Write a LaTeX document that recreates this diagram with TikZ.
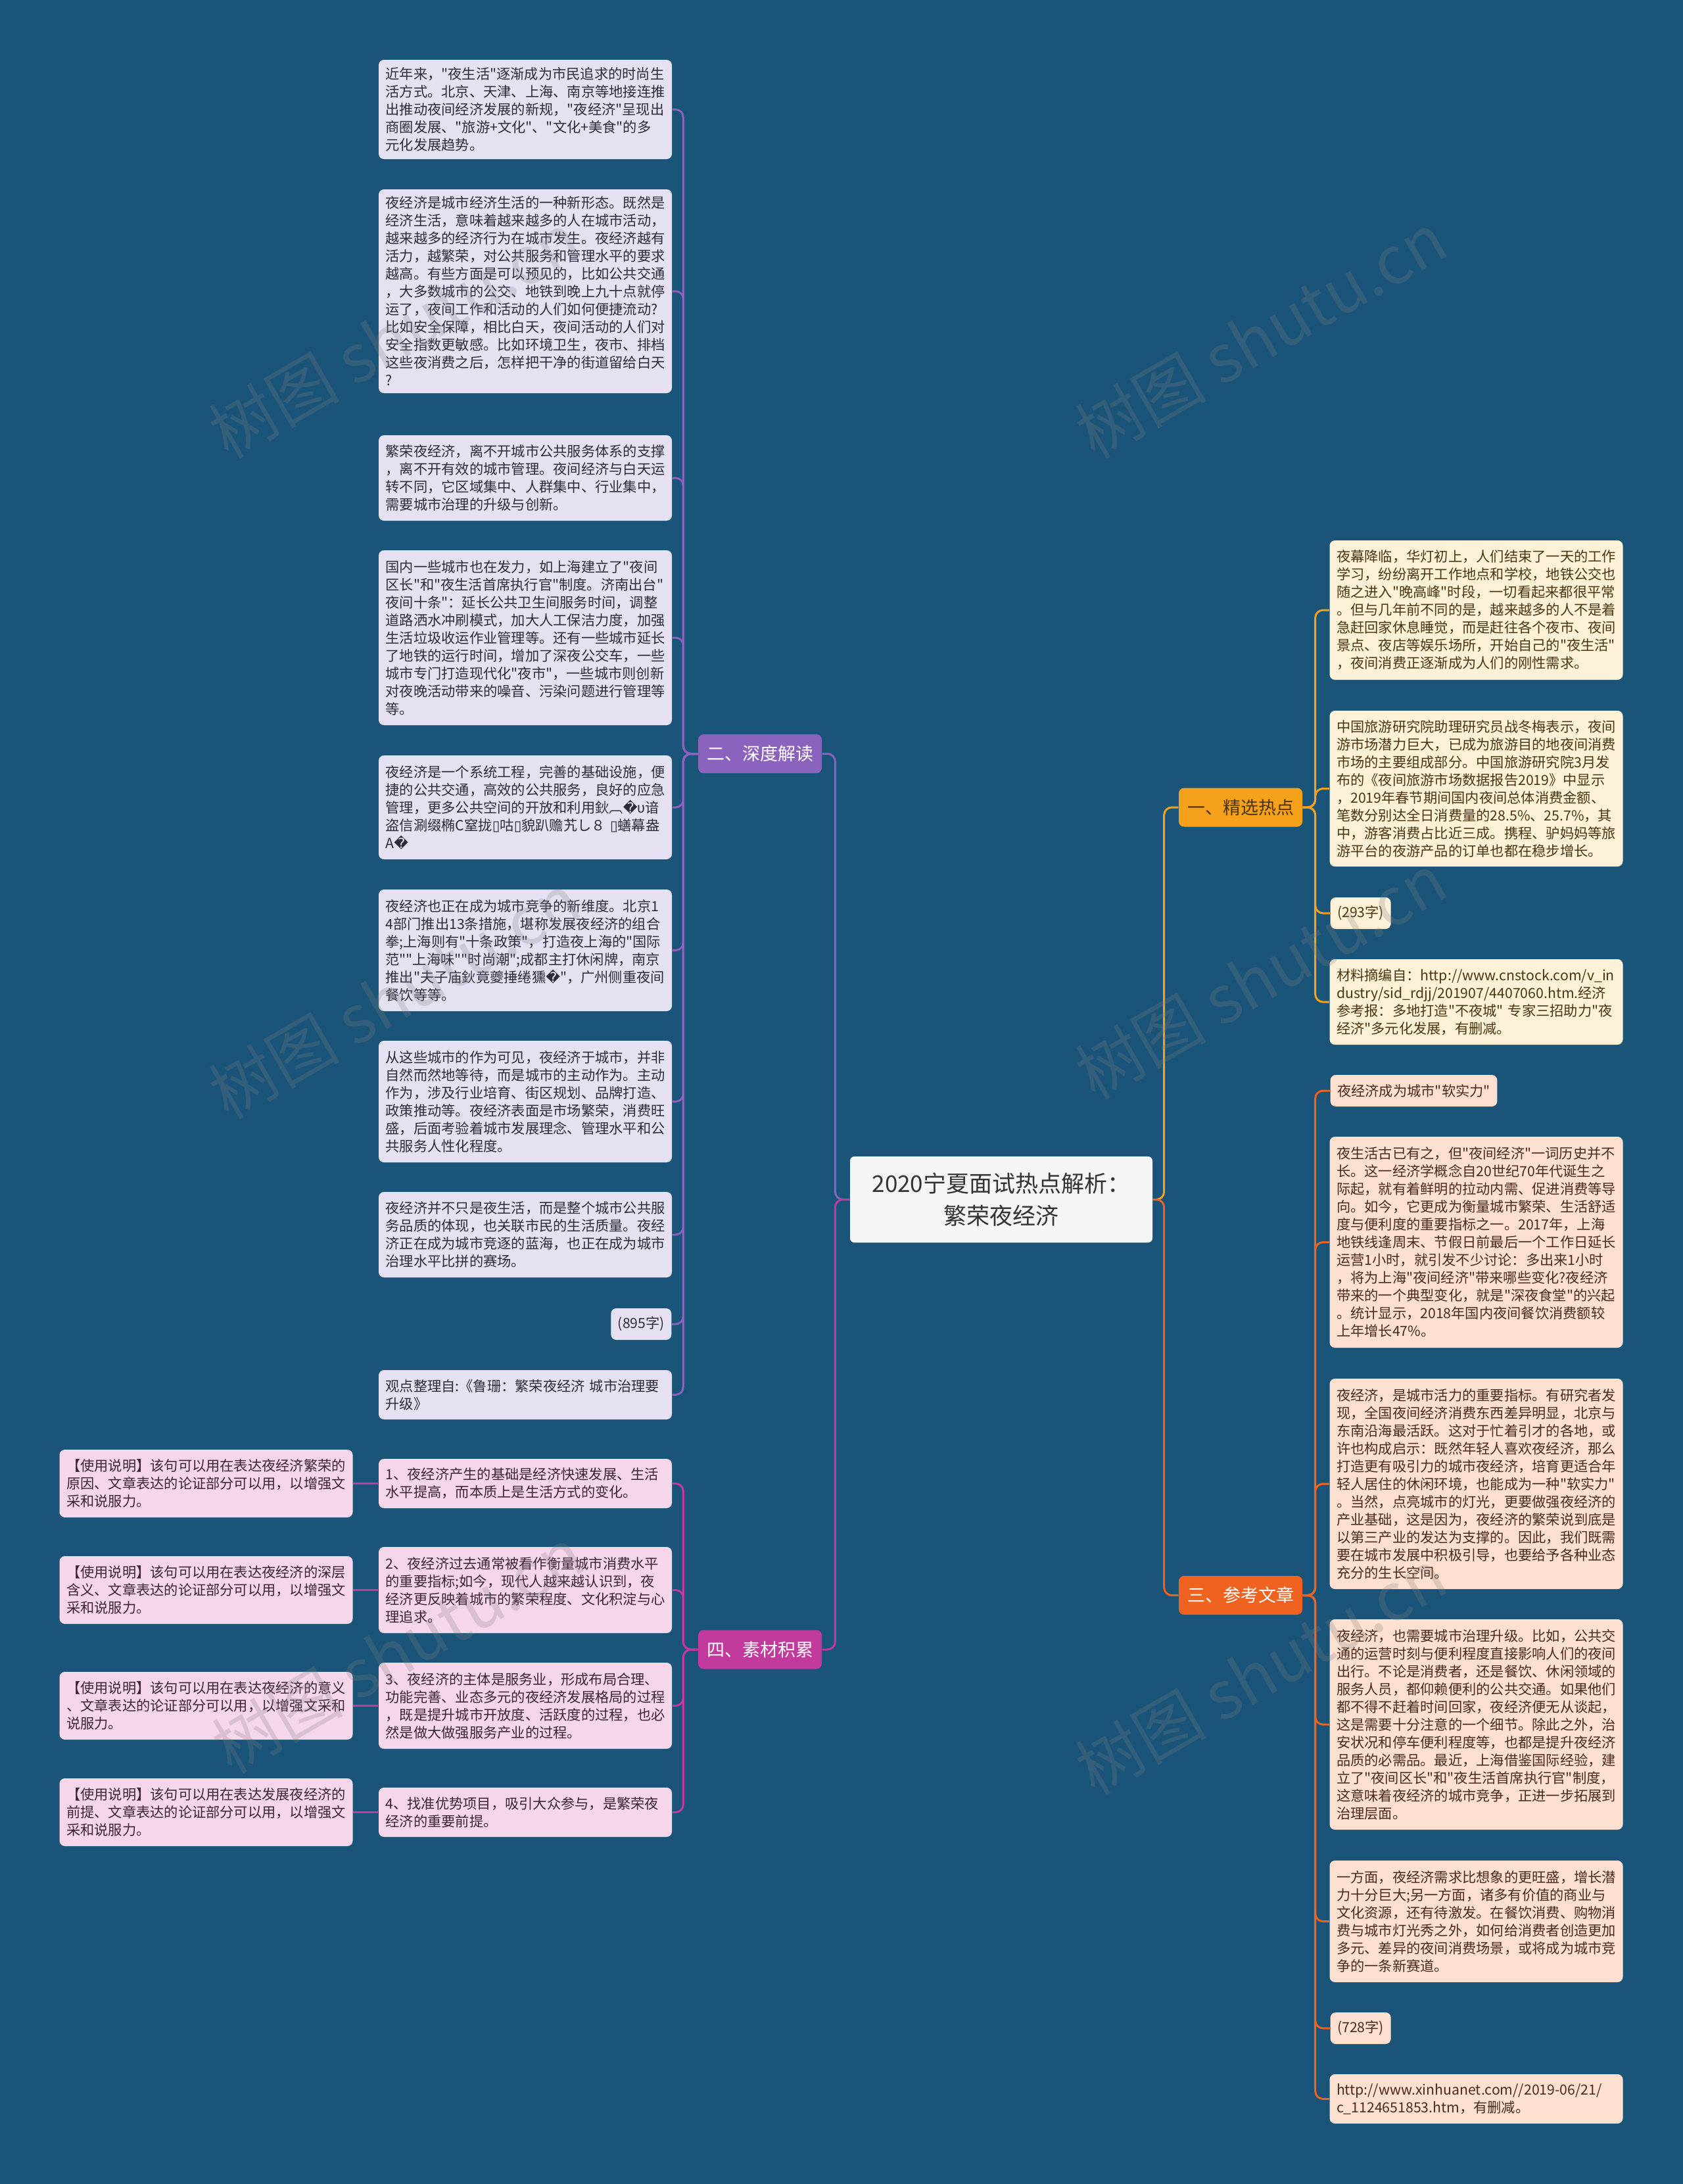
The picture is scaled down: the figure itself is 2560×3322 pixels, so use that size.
\documentclass[tikz,border=0pt]{standalone}
\usepackage{fontspec}
\newfontfamily\cjk{Noto Sans CJK SC}
\newfontfamily\dvs{DejaVu Sans}
\definecolor{bg}{HTML}{1B5479}
\definecolor{pcol}{HTML}{8B62BE}
\definecolor{mcol}{HTML}{C23A9B}
\definecolor{ocol}{HTML}{F5A11C}
\definecolor{rcol}{HTML}{F0621F}
\definecolor{pfill}{HTML}{E6E1F2}
\definecolor{mfill}{HTML}{F6D6EB}
\definecolor{ofill}{HTML}{FDF1D8}
\definecolor{rfill}{HTML}{FDE0D0}
\definecolor{ptext}{HTML}{2E2A3A}
\definecolor{mtext}{HTML}{3A2433}
\definecolor{otext}{HTML}{4A3510}
\definecolor{rtext}{HTML}{4A2A18}
\definecolor{cfill}{HTML}{F5F5F5}
\definecolor{ctext}{HTML}{333333}
\begin{document}
\begin{tikzpicture}[x=0.3pt,y=-0.3pt,
  leafbase/.style={rounded corners=2.4pt, inner xsep=3.15pt, inner ysep=0pt,
    align=left, font=\cjk\fontsize{6.375pt}{8.1pt}\selectfont},
  leaf/.style={leafbase, text width=127.5pt},
  pleaf/.style={leaf, fill=pfill, text=ptext},
  mleaf/.style={leaf, fill=mfill, text=mtext},
  oleaf/.style={leaf, fill=ofill, text=otext},
  rleaf/.style={leaf, fill=rfill, text=rtext},
  psmall/.style={leafbase, fill=pfill, text=ptext, minimum height=14.4pt},
  osmall/.style={leafbase, fill=ofill, text=otext, minimum height=14.4pt},
  rsmall/.style={leafbase, fill=rfill, text=rtext, minimum height=14.4pt},
  branch/.style={rounded corners=2.4pt, minimum width=56.4pt, minimum height=17.7pt,
    inner sep=0pt, font=\cjk\fontsize{8.1pt}{9.7pt}\selectfont},
  conn/.style={line width=0.9pt, rounded corners=3.5pt},
  wm/.style={rotate=30, text=gray, opacity=0.25, font=\cjk\fontsize{30pt}{32pt}\selectfont}
]
\useasboundingbox (0,0) rectangle (2560,3322);
\fill[bg] (0,0) rectangle (2560,3322);

% center
\node[fill=cfill, rounded corners=2pt, minimum width=138pt, minimum height=39.3pt,
  align=center, text=ctext, font=\cjk\fontsize{10.5pt}{14.7pt}\selectfont] (c) at (1523,1824.5)
  {2020宁夏面试热点解析：\\繁荣夜经济};

% branches
\node[branch, fill=ocol, text=otext] (b1) at (1887,1228) {一、精选热点};
\node[branch, fill=pcol, text=white] (b2) at (1156,1146.5) {二、深度解读};
\node[branch, fill=rcol, text=white] (b3) at (1887,2426.5) {三、参考文章};
\node[branch, fill=mcol, text=white] (b4) at (1156,2509) {四、素材积累};

% purple leaves
\node[pleaf, minimum height=45.3pt] (p1) at (799,166.5) {近年来，"夜生活"逐渐成为市民追求的时尚生\\活方式。北京、天津、上海、南京等地接连推\\出推动夜间经济发展的新规，"夜经济"呈现出\\商圈发展、"旅游+文化"、"文化+美食"的多\\元化发展趋势。};
\node[pleaf, minimum height=93pt] (p2) at (799,443) {夜经济是城市经济生活的一种新形态。既然是\\经济生活，意味着越来越多的人在城市活动，\\越来越多的经济行为在城市发生。夜经济越有\\活力，越繁荣，对公共服务和管理水平的要求\\越高。有些方面是可以预见的，比如公共交通\\，大多数城市的公交、地铁到晚上九十点就停\\运了，夜间工作和活动的人们如何便捷流动?\\比如安全保障，相比白天，夜间活动的人们对\\安全指数更敏感。比如环境卫生，夜市、排档\\这些夜消费之后，怎样把干净的街道留给白天\\?};
\node[pleaf, minimum height=39pt] (p3) at (799,727) {繁荣夜经济，离不开城市公共服务体系的支撑\\，离不开有效的城市管理。夜间经济与白天运\\转不同，它区域集中、人群集中、行业集中，\\需要城市治理的升级与创新。};
\node[pleaf, minimum height=79.8pt] (p4) at (799,970) {国内一些城市也在发力，如上海建立了"夜间\\区长"和"夜生活首席执行官"制度。济南出台"\\夜间十条"：延长公共卫生间服务时间，调整\\道路洒水冲刷模式，加大人工保洁力度，加强\\生活垃圾收运作业管理等。还有一些城市延长\\了地铁的运行时间，增加了深夜公交车，一些\\城市专门打造现代化"夜市"，一些城市则创新\\对夜晚活动带来的噪音、污染问题进行管理等\\等。};
\node[pleaf, minimum height=47.4pt] (p5) at (799,1228) {夜经济是一个系统工程，完善的基础设施，便\\捷的公共交通，高效的公共服务，良好的应急\\管理，更多公共空间的开放和利用鈥︹{\dvs �}υ谙\\盗信涮缀椭C窒拢{\dvs ▯}咕{\dvs ▯}貌趴赡艽し８~{\dvs ▯}蟮幕盎\\A{\dvs �}};
\node[pleaf, minimum height=55.5pt] (p6) at (799,1445.5) {夜经济也正在成为城市竞争的新维度。北京1\\4部门推出13条措施，堪称发展夜经济的组合\\拳;上海则有"十条政策"，打造夜上海的"国际\\范""上海味""时尚潮";成都主打休闲牌，南京\\推出"夫子庙鈥竟夔捶绻獯{\dvs �}"，广州侧重夜间\\餐饮等等。};
\node[pleaf, minimum height=55.5pt] (p7) at (799,1675.5) {从这些城市的作为可见，夜经济于城市，并非\\自然而然地等待，而是城市的主动作为。主动\\作为，涉及行业培育、街区规划、品牌打造、\\政策推动等。夜经济表面是市场繁荣，消费旺\\盛，后面考验着城市发展理念、管理水平和公\\共服务人性化程度。};
\node[pleaf, minimum height=39pt] (p8) at (799,1878) {夜经济并不只是夜生活，而是整个城市公共服\\务品质的体现，也关联市民的生活质量。夜经\\济正在成为城市竞逐的蓝海，也正在成为城市\\治理水平比拼的赛场。};
\node[psmall, anchor=east] (p9) at (1022,2014) {(895字)};
\node[pleaf, minimum height=22.5pt] (p10) at (799,2121.5) {观点整理自:《鲁珊：繁荣夜经济~城市治理要\\升级》};

% magenta leaves
\node[mleaf, minimum height=22.5pt] (m1) at (799,2256.5) {1、夜经济产生的基础是经济快速发展、生活\\水平提高，而本质上是生活方式的变化。};
\node[mleaf, minimum height=39.3pt] (m2) at (799,2418.5) {2、夜经济过去通常被看作衡量城市消费水平\\的重要指标;如今，现代人越来越认识到，夜\\经济更反映着城市的繁荣程度、文化积淀与心\\理追求。};
\node[mleaf, minimum height=39.3pt] (m3) at (799,2594.5) {3、夜经济的主体是服务业，形成布局合理、\\功能完善、业态多元的夜经济发展格局的过程\\，既是提升城市开放度、活跃度的过程，也必\\然是做大做强服务产业的过程。};
\node[mleaf, minimum height=22.5pt] (m4) at (799,2756.5) {4、找准优势项目，吸引大众参与，是繁荣夜\\经济的重要前提。};
\node[mleaf, minimum height=30.9pt] (u1) at (313.5,2256.5) {【使用说明】该句可以用在表达夜经济繁荣的\\原因、文章表达的论证部分可以用，以增强文\\采和说服力。};
\node[mleaf, minimum height=30.9pt] (u2) at (313.5,2418.5) {【使用说明】该句可以用在表达夜经济的深层\\含义、文章表达的论证部分可以用，以增强文\\采和说服力。};
\node[mleaf, minimum height=30.9pt] (u3) at (313.5,2594.5) {【使用说明】该句可以用在表达夜经济的意义\\、文章表达的论证部分可以用，以增强文采和\\说服力。};
\node[mleaf, minimum height=30.9pt] (u4) at (313.5,2756.5) {【使用说明】该句可以用在表达发展夜经济的\\前提、文章表达的论证部分可以用，以增强文\\采和说服力。};

% orange leaves
\node[oleaf, minimum height=63.6pt] (o1) at (2245.5,928) {夜幕降临，华灯初上，人们结束了一天的工作\\学习，纷纷离开工作地点和学校，地铁公交也\\随之进入"晚高峰"时段，一切看起来都很平常\\。但与几年前不同的是，越来越多的人不是着\\急赶回家休息睡觉，而是赶往各个夜市、夜间\\景点、夜店等娱乐场所，开始自己的"夜生活"\\，夜间消费正逐渐成为人们的刚性需求。};
\node[oleaf, minimum height=71.1pt] (o2) at (2245.5,1199.5) {中国旅游研究院助理研究员战冬梅表示，夜间\\游市场潜力巨大，已成为旅游目的地夜间消费\\市场的主要组成部分。中国旅游研究院3月发\\布的《夜间旅游市场数据报告2019》中显示\\，2019年春节期间国内夜间总体消费金额、\\笔数分别达全日消费量的28.5\%、25.7\%，其\\中，游客消费占比近三成。携程、驴妈妈等旅\\游平台的夜游产品的订单也都在稳步增长。};
\node[osmall, anchor=west] (o3) at (2023,1389) {(293字)};
\node[oleaf, minimum height=39pt] (o4) at (2245.5,1524) {材料摘编自：http://www.cnstock.com/v\_in\\dustry/sid\_rdjj/201907/4407060.htm.经济\\参考报：多地打造"不夜城"~专家三招助力"夜\\经济"多元化发展，有删减。};

% red leaves
\node[rsmall, anchor=west] (r1) at (2023,1659) {夜经济成为城市"软实力"};
\node[rleaf, minimum height=96.3pt] (r2) at (2245.5,1889.5) {夜生活古已有之，但"夜间经济"一词历史并不\\长。这一经济学概念自20世纪70年代诞生之\\际起，就有着鲜明的拉动内需、促进消费等导\\向。如今，它更成为衡量城市繁荣、生活舒适\\度与便利度的重要指标之一。2017年，上海\\地铁线逢周末、节假日前最后一个工作日延长\\运营1小时，就引发不少讨论：多出来1小时\\，将为上海"夜间经济"带来哪些变化?夜经济\\带来的一个典型变化，就是"深夜食堂"的兴起\\。统计显示，2018年国内夜间餐饮消费额较\\上年增长47\%。};
\node[rleaf, minimum height=96pt] (r3) at (2245.5,2257) {夜经济，是城市活力的重要指标。有研究者发\\现，全国夜间经济消费东西差异明显，北京与\\东南沿海最活跃。这对于忙着引才的各地，或\\许也构成启示：既然年轻人喜欢夜经济，那么\\打造更有吸引力的城市夜经济，培育更适合年\\轻人居住的休闲环境，也能成为一种"软实力"\\。当然，点亮城市的灯光，更要做强夜经济的\\产业基础，这是因为，夜经济的繁荣说到底是\\以第三产业的发达为支撑的。因此，我们既需\\要在城市发展中积极引导，也要给予各种业态\\充分的生长空间。};
\node[rleaf, minimum height=96pt] (r4) at (2245.5,2623) {夜经济，也需要城市治理升级。比如，公共交\\通的运营时刻与便利程度直接影响人们的夜间\\出行。不论是消费者，还是餐饮、休闲领域的\\服务人员，都仰赖便利的公共交通。如果他们\\都不得不赶着时间回家，夜经济便无从谈起，\\这是需要十分注意的一个细节。除此之外，治\\安状况和停车便利程度等，也都是提升夜经济\\品质的必需品。最近，上海借鉴国际经验，建\\立了"夜间区长"和"夜生活首席执行官"制度，\\这意味着夜经济的城市竞争，正进一步拓展到\\治理层面。};
\node[rleaf, minimum height=55.5pt] (r5) at (2245.5,2922.5) {一方面，夜经济需求比想象的更旺盛，增长潜\\力十分巨大;另一方面，诸多有价值的商业与\\文化资源，还有待激发。在餐饮消费、购物消\\费与城市灯光秀之外，如何给消费者创造更加\\多元、差异的夜间消费场景，或将成为城市竞\\争的一条新赛道。};
\node[rsmall, anchor=west] (r6) at (2023,3085) {(728字)};
\node[rleaf, minimum height=22.5pt] (r7) at (2245.5,3192.5) {http://www.xinhuanet.com//2019-06/21/\\c\_1124651853.htm，有删减。};

% connectors: center to branches
\draw[conn, ocol] (c.east) -- ++(17,0) |- (b1.west);
\draw[conn, rcol] (c.east) -- ++(17,0) |- (b3.west);
\draw[conn, pcol] (c.west) -- ++(-22,0) |- (b2.east);
\draw[conn, mcol] (c.west) -- ++(-22,0) |- (b4.east);

% purple
\foreach \n in {p1,p2,p3,p4,p5,p6,p7,p8,p9,p10}
  \draw[conn, pcol] (b2.west) -- ++(-22,0) |- (\n.east);
% magenta
\foreach \n in {m1,m2,m3,m4}
  \draw[conn, mcol] (b4.west) -- ++(-22,0) |- (\n.east);
\draw[conn, mcol] (m1.west) -- (u1.east);
\draw[conn, mcol] (m2.west) -- (u2.east);
\draw[conn, mcol] (m3.west) -- (u3.east);
\draw[conn, mcol] (m4.west) -- (u4.east);
% orange
\foreach \n in {o1,o2,o3,o4}
  \draw[conn, ocol] (b1.east) -- ++(19,0) |- (\n.west);
% red
\foreach \n in {r1,r2,r3,r4,r5,r6,r7}
  \draw[conn, rcol] (b3.east) -- ++(19,0) |- (\n.west);

% watermarks
\node[wm] (w1) at (600,510) {树图 shutu.cn};
\node[wm] (w2) at (1918,510) {树图 shutu.cn};
\node[wm] (w3) at (600,1515) {树图 shutu.cn};
\node[wm] (w4) at (1918,1485) {树图 shutu.cn};
\node[wm] (w5) at (605,2510) {树图 shutu.cn};
\node[wm] (w6) at (1918,2543) {树图 shutu.cn};
\end{tikzpicture}
\end{document}
